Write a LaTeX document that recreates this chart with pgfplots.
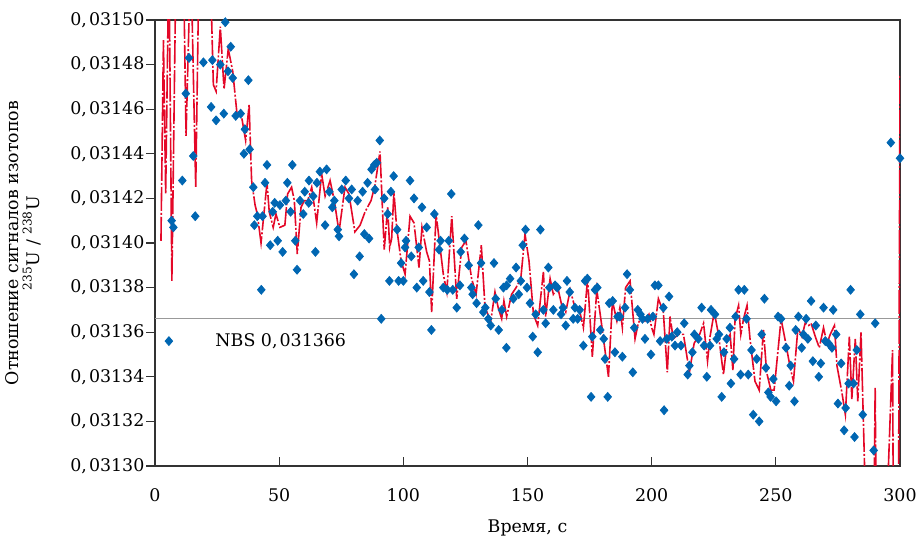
\documentclass[border=0pt]{standalone}
\usepackage{fontspec}
\setmainfont{DejaVu Serif}
\usepackage{pgfplots}
\pgfplotsset{compat=1.18}
\definecolor{ptblue}{RGB}{0,102,178}
\definecolor{lnred}{RGB}{228,8,40}

\begin{document}
\fontsize{8.7}{10.5}\selectfont
\begin{tikzpicture}
\begin{axis}[
  name=ax,
  scale only axis,
  width=372.5pt, height=223pt,
  xmin=0, xmax=300, ymin=0.0313, ymax=0.0315,
  xtick={0,50,100,150,200,250,300},
  ytick={0.0313,0.03132,0.03134,0.03136,0.03138,0.0314,0.03142,0.03144,0.03146,0.03148,0.0315},
  scaled y ticks=false,
  /pgf/number format/assume math mode=true,
  yticklabel style={xshift=-2.2pt, /pgf/number format/fixed, /pgf/number format/fixed zerofill,
    /pgf/number format/precision=5, /pgf/number format/set decimal separator={,\kern0.12em}},
  xticklabel style={yshift=-8pt},
  tick align=inside,
  major tick length=4.5pt,
  y tick style={xshift=-4.5pt},
  xtick pos=left, ytick pos=left,
  tick style={black!80, line width=0.6pt},
  axis line style={black!80, line width=0.6pt},
  xlabel={Время, с},
  ylabel={Отношение сигналов изотопов\\\textsuperscript{235}U / \textsuperscript{238}U},
  xlabel style={at={(axis description cs:0.5,-0.149)}, anchor=base},
  ylabel style={at={(axis description cs:-0.145,0.5)}, anchor=south, align=center},
]
% NBS reference value
\addplot[black!40, line width=0.6pt] coordinates {(0,0.031366) (300,0.031366)};
\node[anchor=base west, inner sep=0pt] at (axis cs:24.2,0.0313535) {NBS 0,\kern0.12em031366};

% smoothed signal
\addplot[lnred, line width=0.8pt, dash pattern=on 12pt off 1pt on 1pt off 1pt, no markers] coordinates {
(2.4,0.031401) (3.4,0.031491) (4.3,0.031422) (5.6,0.03153) (6.8,0.031383) (8.5,0.03153)
(11.4,0.03153) (12.5,0.031448) (14.4,0.03153) (16.4,0.031425) (17.8,0.03153) (22.1,0.03153)
(23.5,0.031471) (24.6,0.031468) (26.3,0.031497) (27.8,0.031469) (29.5,0.031487) (31.3,0.031477)
(33.1,0.031457) (34.5,0.031459) (36.5,0.031446) (37.9,0.031462) (38.9,0.031428) (40.3,0.031417)
(41.2,0.031413) (42.7,0.031400) (45.1,0.031427) (46.0,0.031414) (47.6,0.031407) (48.7,0.031413)
(50.3,0.031407) (52.3,0.031408) (53.4,0.031422) (55.0,0.031425) (56.1,0.031419) (57.3,0.031395)
(58.8,0.031416) (60.1,0.031419) (61.5,0.031419) (63.1,0.031425) (65.1,0.031409) (67.1,0.031431)
(68.5,0.031421) (70.5,0.031428) (72.2,0.031419) (74.1,0.031405) (76.5,0.031425) (78.1,0.031422)
(80.5,0.031405) (82.6,0.031408) (84.6,0.031414) (87.0,0.031419) (88.6,0.031426) (90.6,0.031441)
(92.3,0.031397) (93.7,0.031416) (94.5,0.031398) (95.3,0.031402) (96.2,0.031423) (97.3,0.031407)
(99.1,0.031392) (100.7,0.031386) (102.7,0.031412) (104.3,0.031409) (106.3,0.031389) (107.5,0.031407)
(109.4,0.031396) (110.5,0.031392) (111.4,0.031369) (113.2,0.031413) (114.8,0.031398) (116.1,0.031386)
(117.5,0.031378) (119.5,0.031412) (121.5,0.031375) (123.5,0.031398) (125.2,0.031401) (127.5,0.031384)
(129.3,0.031377) (131.4,0.031399) (132.9,0.031371) (135.2,0.031365) (136.9,0.031378) (138.2,0.031371)
(139.6,0.031366) (140.5,0.031374) (141.6,0.031367) (143.6,0.031377) (145.4,0.031380) (147.3,0.031384)
(149.0,0.031404) (150.6,0.031392) (152.4,0.031368) (154.1,0.031363) (156.4,0.031387) (157.3,0.031367)
(159.1,0.031384) (160.4,0.031377) (162.2,0.031380) (163.8,0.031372) (165.4,0.031369) (167.2,0.031379)
(169.1,0.031371) (171.1,0.031369) (172.5,0.031362) (174.2,0.031384) (176.1,0.031349) (177.9,0.031379)
(179.9,0.031363) (182.6,0.031340) (184.2,0.031374) (186.0,0.031365) (187.2,0.031371) (188.2,0.031362)
(189.5,0.031380) (191.3,0.031383) (193.3,0.031357) (194.6,0.031364) (196.0,0.031367) (197.3,0.031365)
(198.9,0.031368) (200.0,0.031362) (200.9,0.031359) (202.7,0.031375) (204.7,0.031369) (206.3,0.031342)
(207.4,0.031367) (208.7,0.031357) (210.7,0.031359) (212.8,0.031359) (215.2,0.031342) (217.1,0.031355)
(219.3,0.031359) (220.9,0.031364) (222.5,0.031347) (223.5,0.031358) (225.2,0.031369) (226.9,0.031359)
(228.9,0.031341) (230.5,0.031357) (231.6,0.031359) (232.7,0.031343) (233.6,0.031366) (235.0,0.031372)
(235.9,0.031359) (237.0,0.031366) (238.4,0.031372) (239.6,0.031357) (241.6,0.031338) (243.3,0.031334)
(245.0,0.031361) (246.3,0.031342) (248.0,0.031334) (249.3,0.031334) (251.5,0.031359) (252.1,0.031366)
(254.0,0.031355) (255.8,0.031344) (257.1,0.031338) (258.9,0.031362) (260.5,0.031358) (261.8,0.031364)
(263.2,0.031363) (264.2,0.031364) (265.9,0.031358) (267.5,0.031353) (269.2,0.031362) (270.6,0.031355)
(271.9,0.031359) (273.6,0.031363) (274.6,0.031345) (276.6,0.031333) (278.0,0.031323) (279.6,0.031358)
(280.6,0.031330) (282.0,0.031357) (283.0,0.031329) (284.3,0.031360) (286.2,0.03128) (289.5,0.03128)
(290.0,0.031335) (290.4,0.03128) (294.7,0.03128) (297.0,0.031352) (297.3,0.03128) (299.4,0.03128)
(300.0,0.031475)
};

% measured ratios
\addplot[only marks, mark=diamond*, mark size=2.2pt, mark options={xscale=1.15, draw=ptblue, fill=ptblue}] coordinates {
(5.6,0.031356) (6.7,0.031410) (7.4,0.031407) (11.0,0.031428) (12.4,0.031467) (13.7,0.031483)
(15.4,0.031439) (16.2,0.031412) (19.5,0.031481) (22.6,0.031461) (23.1,0.031482) (24.6,0.031455)
(26.3,0.031480) (27.7,0.031458) (28.3,0.031499) (29.4,0.031477) (30.5,0.031488) (31.3,0.031474)
(32.5,0.031457) (34.5,0.031458) (35.8,0.031440) (36.2,0.031451) (37.6,0.031473) (38.1,0.031442)
(39.6,0.031425) (40.0,0.031408) (41.2,0.031412) (42.8,0.031379) (43.3,0.031412) (44.3,0.031427)
(45.1,0.031435) (46.4,0.031399) (47.4,0.031414) (48.2,0.031418) (49.4,0.031401) (50.3,0.031417)
(51.4,0.031396) (52.7,0.031419) (53.3,0.031427) (54.6,0.031414) (55.3,0.031435) (56.5,0.031401)
(57.2,0.031388) (58.4,0.031419) (59.7,0.031413) (60.3,0.031423) (61.9,0.031418) (62.0,0.031428)
(63.7,0.031421) (64.6,0.031396) (65.2,0.031427) (66.4,0.031432) (68.5,0.031408) (69.1,0.031433)
(70.2,0.031423) (71.4,0.031416) (72.2,0.031419) (73.6,0.031406) (74.1,0.031403) (75.2,0.031424)
(76.8,0.031428) (78.1,0.031420) (79.2,0.031424) (80.1,0.031386) (81.6,0.031419) (82.4,0.031394)
(83.6,0.031423) (84.3,0.031404) (85.6,0.031427) (86.2,0.031402) (87.2,0.031433) (88.3,0.031435)
(88.6,0.031424) (89.3,0.031436) (90.5,0.031446) (91.1,0.031366) (92.3,0.031420) (93.7,0.031413)
(94.4,0.031383) (95.0,0.031423) (96.1,0.031430) (97.5,0.031406) (98.1,0.031383) (99.1,0.031391)
(100.0,0.031383) (100.7,0.031398) (101.1,0.031401) (102.7,0.031428) (103.2,0.031394) (104.3,0.031420)
(105.4,0.031380) (106.2,0.031398) (107.5,0.031416) (108.0,0.031383) (109.4,0.031407) (110.5,0.031378)
(111.3,0.031361) (112.5,0.031413) (114.4,0.031397) (115.0,0.031401) (116.1,0.031380) (117.7,0.031379)
(118.3,0.031401) (119.3,0.031422) (119.9,0.031379) (121.5,0.031371) (122.8,0.031381) (123.1,0.031396)
(124.6,0.031402) (126.3,0.031390) (127.4,0.031380) (127.9,0.031377) (129.5,0.031373) (130.2,0.031408)
(131.3,0.031391) (132.2,0.031369) (133.0,0.031371) (134.2,0.031366) (135.2,0.031363) (136.5,0.031391)
(137.2,0.031375) (138.4,0.031361) (139.7,0.031370) (140.3,0.031380) (141.5,0.031353) (141.6,0.031381)
(143.0,0.031384) (144.3,0.031375) (145.4,0.031389) (146.5,0.031377) (147.3,0.031383) (148.1,0.031399)
(149.2,0.031406) (149.8,0.031380) (151.0,0.031373) (152.1,0.031358) (153.3,0.031368) (154.1,0.031351)
(155.2,0.031406) (156.4,0.031370) (157.3,0.031364) (158.4,0.031389) (158.8,0.031380) (160.4,0.031370)
(161.1,0.031381) (162.0,0.031380) (163.5,0.031368) (164.3,0.031371) (165.4,0.031363) (165.9,0.031383)
(167.0,0.031378) (168.4,0.031366) (169.1,0.031371) (170.2,0.031366) (171.0,0.031370) (172.5,0.031354)
(173.2,0.031383) (174.1,0.031384) (175.6,0.031331) (176.1,0.031358) (177.2,0.031379) (178.1,0.031380)
(179.3,0.031361) (180.7,0.031357) (181.2,0.031348) (182.3,0.031331) (182.9,0.031373) (184.3,0.031374)
(185.2,0.031351) (186.3,0.031367) (187.2,0.031367) (188.2,0.031349) (189.3,0.031371) (190.1,0.031386)
(191.2,0.031379) (192.4,0.031342) (193.0,0.031362) (194.4,0.031370) (195.5,0.031368) (196.3,0.031366)
(197.3,0.031357) (198.4,0.031366) (199.7,0.031350) (200.5,0.031367) (201.3,0.031381) (202.7,0.031381)
(203.4,0.031356) (204.7,0.031371) (205.0,0.031325) (206.1,0.031357) (207.0,0.031376) (208.1,0.031358)
(209.4,0.031354) (210.3,0.031360) (211.8,0.031354) (213.1,0.031364) (214.5,0.031341) (215.2,0.031345)
(216.4,0.031351) (217.2,0.031359) (218.8,0.031357) (220.1,0.031371) (221.1,0.031354) (222.2,0.031340)
(223.5,0.031354) (223.9,0.031370) (225.5,0.031368) (226.2,0.031357) (227.1,0.031359) (228.2,0.031331)
(229.1,0.031351) (230.2,0.031357) (231.5,0.031362) (231.9,0.031337) (233.2,0.031348) (233.8,0.031367)
(235.0,0.031379) (235.8,0.031341) (237.3,0.031379) (238.2,0.031366) (238.9,0.031341) (240.2,0.031352)
(240.9,0.031323) (242.3,0.031348) (243.3,0.031320) (244.3,0.031359) (245.4,0.031375) (246.0,0.031344)
(247.0,0.031333) (247.9,0.031331) (249.0,0.031339) (250.1,0.031329) (250.9,0.031367) (252.1,0.031366)
(254.1,0.031353) (255.4,0.031336) (256.0,0.031345) (257.5,0.031329) (258.0,0.031361) (259.1,0.031367)
(260.4,0.031353) (261.1,0.031359) (262.2,0.031366) (262.9,0.031357) (264.2,0.031374) (264.9,0.031347)
(266.1,0.031363) (267.3,0.031340) (268.1,0.031346) (269.2,0.031371) (269.9,0.031356) (271.2,0.031355)
(272.6,0.031353) (273.1,0.031370) (274.3,0.031359) (275.0,0.031328) (276.3,0.031346) (277.5,0.031316)
(278.1,0.031326) (279.3,0.031337) (280.1,0.031379) (281.3,0.031337) (281.7,0.031313) (282.6,0.031352)
(284.0,0.031368) (285.0,0.031323) (289.4,0.031307) (290.0,0.031364) (296.3,0.031445) (300.0,0.031438)
};
\end{axis}
\pgfresetboundingbox
\path[use as bounding box] ([xshift=-77.5pt,yshift=-35.5pt]ax.south west) rectangle ([xshift=9pt,yshift=10pt]ax.north east);
\end{tikzpicture}
\end{document}
